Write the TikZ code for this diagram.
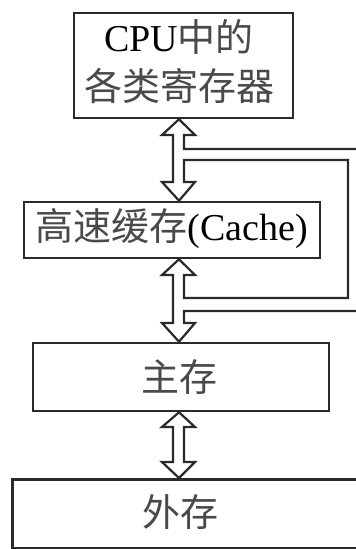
\documentclass[tikz,border=0pt]{standalone}
\usepackage{fontspec}
\setmainfont{Liberation Serif}
\newfontfamily\cjk{Noto Sans CJK SC}
\definecolor{cjkgray}{HTML}{4A4A4A}
\definecolor{edge}{HTML}{2A2A2A}
\newcommand{\zh}[1]{{\cjk\color{cjkgray}#1}}
\begin{document}
\begin{tikzpicture}[x=1pt,y=-1pt,
  box/.style={draw=edge, line width=2.6pt, inner sep=0pt, fill=white},
  lbl/.style={font=\fontsize{38}{49}\selectfont, align=center, inner sep=0pt, text=black},
  hollow/.style={draw=edge, line width=2.2pt, line join=miter}]
\path[use as bounding box] (0,0) rectangle (356,549);
\clip (0,0) rectangle (356,549);
\fill[white] (0,0) rectangle (356,549);
% boxes
\node[box, minimum width=219pt, minimum height=105pt] (cpu) at (183.5,65.5) {};
\node[lbl] (cpuT) at (179,62) {CPU\zh{中的}\\\zh{各类寄存器}};
\node[box, minimum width=296pt, minimum height=56pt] (cache) at (172,230) {};
\node[lbl] (cacheT) at (172,229) {\zh{高速缓存}(Cache)};
\node[box, minimum width=296pt, minimum height=68pt] (main) at (181,377) {};
\node[lbl] (mainT) at (179,377) {\zh{主存}};
\node[box, anchor=north west, minimum width=400pt, minimum height=69pt] (ext) at (11,478) {};
\node[lbl] (extT) at (180,512) {\zh{外存}};
% hollow double arrows with side channel
\coordinate (ax) at (179,0);
\draw[hollow] (356,149) -- (184,149) -- (184,135) -- (195,135) -- (ax |- cpu.south) -- (162,135) -- (173,135)
  -- (173,182) -- (162,182) -- (ax |- cache.north) -- (195,182) -- (184,182) -- (184,160)
  -- (348,160) -- (348,298) -- (184,298)
  -- (184,275) -- (195,275) -- (ax |- cache.south) -- (162,275) -- (173,275)
  -- (173,323) -- (162,323) -- (ax |- main.north) -- (195,323) -- (184,323) -- (184,311) -- (356,311);
\draw[hollow] (ax |- main.south) -- (195,427) -- (184,427) -- (184,462) -- (195,462) -- (ax |- ext.north)
  -- (162,462) -- (173,462) -- (173,427) -- (162,427) -- cycle;
\end{tikzpicture}
\end{document}
